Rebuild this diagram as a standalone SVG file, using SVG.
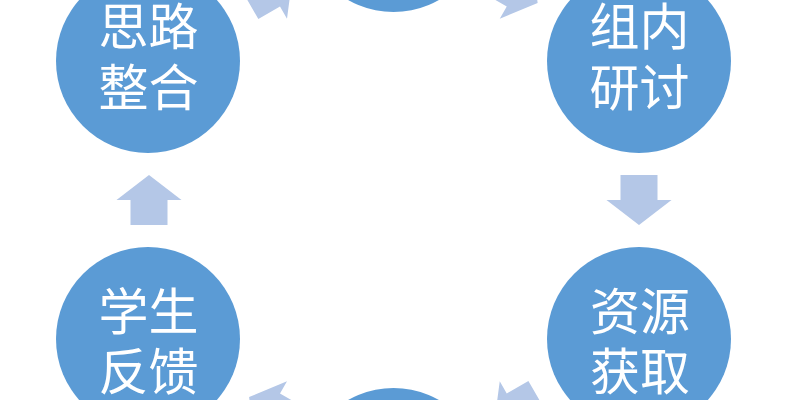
<svg xmlns="http://www.w3.org/2000/svg" xmlns:xlink="http://www.w3.org/1999/xlink" width="800" height="400" viewBox="0 0 800 400">
  <defs>
    <style>
      .node { fill: #5B9BD5; }
      .arrow { fill: #B4C7E7; }
      .label { fill: #FFFFFF; font-family: "Noto Sans CJK SC", "Microsoft YaHei", sans-serif; font-size: 50px; text-anchor: middle; }
    </style>
    <polygon id="blockArrow" points="-25,-18.5 0,-18.5 0,-32.5 25,0 0,32.5 0,18.5 -25,18.5"/>
  </defs>
  <rect width="800" height="400" fill="#FFFFFF"/>

  <g id="connectors">
    <use xlink:href="#blockArrow" href="#blockArrow" class="arrow" transform="translate(270.75,-9.5) rotate(-30)"/>
    <use xlink:href="#blockArrow" href="#blockArrow" class="arrow" transform="translate(516,-9.5) rotate(30)"/>
    <use xlink:href="#blockArrow" href="#blockArrow" class="arrow" transform="translate(639,200) rotate(90)"/>
    <use xlink:href="#blockArrow" href="#blockArrow" class="arrow" transform="translate(516,409.5) rotate(150)"/>
    <use xlink:href="#blockArrow" href="#blockArrow" class="arrow" transform="translate(270.75,409.5) rotate(210)"/>
    <use xlink:href="#blockArrow" href="#blockArrow" class="arrow" transform="translate(149,200) rotate(-90)"/>
  </g>

  <g id="node-top">
    <circle class="node" cx="393.5" cy="-80" r="92"/>
  </g>

  <g id="node-zunei">
    <circle class="node" cx="639" cy="61" r="92"/>
    <text class="label" x="639.5" y="45">组内</text>
    <text class="label" x="639.5" y="106">研讨</text>
  </g>

  <g id="node-ziyuan">
    <circle class="node" cx="639" cy="339" r="92"/>
    <text class="label" x="640" y="330">资源</text>
    <text class="label" x="640" y="390">获取</text>
  </g>

  <g id="node-bottom">
    <circle class="node" cx="393.5" cy="480" r="92"/>
  </g>

  <g id="node-xuesheng">
    <circle class="node" cx="148" cy="339" r="92"/>
    <text class="label" x="148.5" y="330">学生</text>
    <text class="label" x="148.5" y="390">反馈</text>
  </g>

  <g id="node-silu">
    <circle class="node" cx="148" cy="61" r="92"/>
    <text class="label" x="148.5" y="45">思路</text>
    <text class="label" x="148.5" y="106">整合</text>
  </g>
</svg>
